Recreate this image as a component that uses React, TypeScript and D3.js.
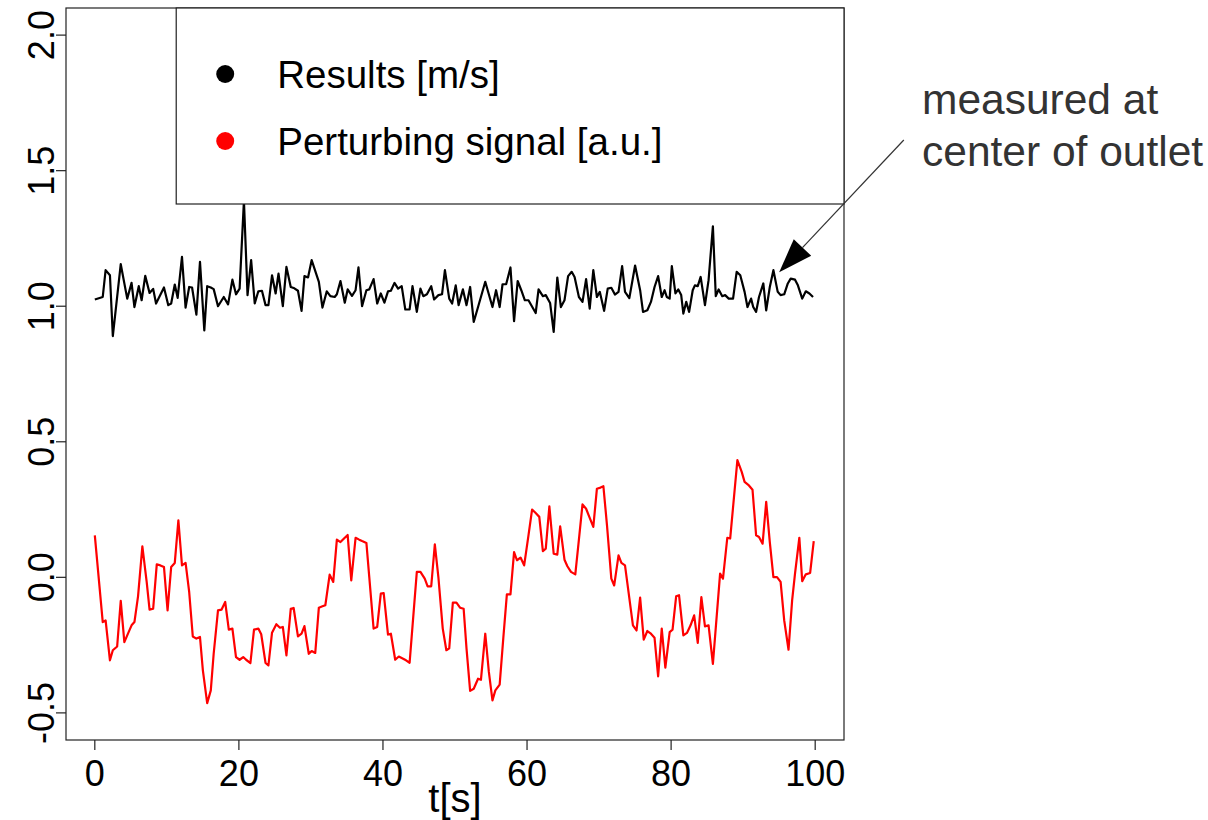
import { useEffect } from "react";
import * as d3 from "d3";

// Results [m/s] — time (s) and value
const resultsT = [0.0, 1.1, 1.5, 2.1, 2.5, 3.6, 4.5, 5.1, 5.5, 6.1, 6.5, 7.0, 7.6, 8.1, 8.5, 9.6, 10.2, 10.6, 11.1, 11.5, 12.1, 12.6, 13.1, 13.5, 14.1, 14.6, 15.2, 15.6, 16.1, 16.5, 17.1, 17.9, 18.5, 19.1, 19.6, 20.1, 20.7, 21.2, 21.7, 22.2, 22.7, 23.2, 23.7, 24.1, 24.6, 25.1, 25.5, 26.1, 26.6, 27.2, 27.7, 28.2, 28.7, 29.1, 29.6, 30.1, 31.1, 31.6, 32.2, 32.7, 33.3, 33.6, 34.1, 34.7, 35.1, 35.7, 36.2, 36.6, 37.1, 37.7, 38.1, 38.7, 39.2, 39.7, 40.2, 40.7, 41.1, 41.6, 42.1, 42.6, 43.1, 43.7, 44.1, 44.7, 45.2, 45.6, 46.1, 46.7, 47.1, 47.7, 48.2, 48.6, 49.2, 49.6, 50.1, 50.5, 51.1, 51.6, 52.1, 52.6, 53.2, 54.2, 55.2, 55.7, 56.2, 56.6, 57.1, 57.7, 58.2, 58.7, 59.2, 59.7, 60.2, 61.2, 61.6, 62.2, 62.6, 63.2, 63.7, 64.2, 64.7, 65.2, 65.7, 66.2, 66.6, 67.2, 67.7, 68.2, 68.7, 69.2, 69.7, 70.1, 70.7, 71.2, 71.7, 72.2, 72.7, 73.2, 73.6, 74.2, 75.0, 75.7, 76.1, 76.7, 77.2, 77.7, 78.2, 78.7, 79.1, 79.4, 79.8, 80.1, 80.6, 81.0, 81.4, 81.7, 82.1, 82.5, 83.0, 83.3, 83.7, 84.1, 84.7, 85.2, 85.8, 86.2, 86.6, 87.1, 87.5, 88.0, 88.6, 89.1, 89.6, 90.2, 90.6, 91.1, 91.4, 91.8, 92.2, 92.8, 93.2, 93.7, 94.2, 94.8, 95.2, 95.7, 96.2, 96.6, 97.2, 97.6, 98.2, 98.7, 99.2, 99.7];
const resultsV = [1.025, 1.034, 1.133, 1.114, 0.89, 1.155, 1.028, 1.086, 0.997, 1.074, 1.022, 1.112, 1.049, 1.064, 1.01, 1.069, 1.004, 1.01, 1.08, 1.031, 1.182, 0.995, 1.071, 1.069, 0.969, 1.164, 0.911, 1.074, 1.069, 1.063, 1.0, 1.034, 1.007, 1.098, 1.044, 1.065, 1.389, 1.041, 1.17, 1.01, 1.055, 1.057, 1.004, 1.004, 1.114, 1.047, 1.12, 1.0, 1.145, 1.071, 1.066, 1.057, 0.983, 1.111, 1.106, 1.17, 1.09, 0.995, 1.055, 1.037, 1.034, 1.044, 1.093, 1.013, 1.062, 1.038, 1.059, 1.143, 1.0, 1.059, 1.062, 1.1, 1.01, 1.047, 1.013, 1.055, 1.057, 1.086, 1.065, 1.074, 0.988, 0.988, 1.074, 0.979, 1.065, 1.037, 1.044, 1.074, 1.025, 1.041, 1.044, 1.133, 1.028, 1.01, 1.077, 1.004, 1.062, 1.004, 1.071, 0.942, 0.997, 1.09, 0.997, 1.059, 0.997, 1.081, 1.081, 1.143, 0.945, 1.093, 1.059, 1.022, 1.022, 0.975, 1.062, 1.037, 1.041, 1.012, 0.905, 1.106, 0.997, 1.022, 1.111, 1.127, 1.108, 1.034, 1.016, 1.1, 0.991, 1.133, 1.034, 1.053, 0.983, 1.065, 1.068, 1.043, 1.053, 1.148, 1.053, 1.03, 1.15, 1.059, 0.979, 0.985, 1.016, 1.071, 1.111, 1.034, 1.059, 1.034, 1.028, 1.148, 1.047, 1.062, 1.041, 0.973, 1.016, 0.979, 1.059, 1.077, 1.074, 1.108, 1.004, 1.096, 1.295, 1.037, 1.062, 1.037, 1.041, 1.028, 1.028, 1.127, 1.114, 1.053, 0.997, 1.028, 0.997, 0.979, 1.034, 1.084, 0.985, 1.071, 1.133, 1.053, 1.041, 1.044, 1.084, 1.102, 1.098, 1.077, 1.028, 1.055, 1.047, 1.034];

// Perturbing signal [a.u.] — time (s) and value
const signalT = [0.0, 1.1, 1.5, 2.1, 2.5, 3.1, 3.6, 4.1, 4.5, 5.1, 5.5, 6.0, 6.6, 7.2, 7.6, 8.1, 8.6, 9.1, 9.6, 10.1, 10.6, 11.1, 11.6, 12.1, 12.6, 13.1, 13.6, 14.1, 14.6, 15.0, 15.6, 16.1, 16.5, 17.1, 17.6, 18.1, 18.6, 19.1, 19.6, 20.1, 20.6, 21.0, 21.6, 22.1, 22.7, 23.1, 23.7, 24.1, 24.6, 25.2, 25.7, 26.1, 26.6, 27.2, 27.6, 28.2, 28.7, 29.1, 29.7, 30.1, 30.6, 31.1, 31.6, 32.0, 32.6, 33.1, 33.6, 34.1, 34.7, 35.1, 35.6, 36.2, 36.7, 37.1, 37.7, 38.1, 38.7, 39.2, 39.7, 40.1, 40.7, 41.1, 41.7, 42.2, 42.8, 43.2, 43.7, 44.1, 44.7, 45.2, 45.8, 46.2, 46.7, 47.2, 47.7, 48.3, 48.8, 49.2, 49.7, 50.2, 50.7, 51.2, 51.6, 52.1, 52.6, 53.2, 53.6, 54.2, 54.7, 55.2, 55.6, 56.2, 56.7, 57.2, 57.7, 58.2, 58.6, 59.1, 59.6, 60.2, 60.7, 61.2, 61.7, 62.2, 62.6, 63.1, 63.7, 64.2, 64.6, 65.2, 65.6, 66.1, 66.7, 67.2, 67.7, 68.2, 68.7, 69.2, 69.7, 70.2, 70.6, 71.1, 71.7, 72.1, 72.7, 73.1, 73.6, 74.7, 75.2, 75.7, 76.2, 76.7, 77.2, 77.7, 78.2, 78.7, 79.2, 79.8, 80.2, 80.7, 81.1, 81.7, 82.2, 82.7, 83.2, 83.7, 84.2, 84.7, 85.2, 85.8, 86.8, 87.2, 87.8, 88.2, 89.2, 89.8, 90.2, 90.8, 91.3, 91.8, 92.2, 92.7, 93.2, 93.7, 94.2, 94.7, 95.2, 95.7, 96.3, 96.8, 97.2, 97.8, 98.2, 98.7, 99.3, 99.8];
const signalV = [0.155, -0.165, -0.159, -0.306, -0.269, -0.255, -0.087, -0.239, -0.214, -0.177, -0.165, -0.07, 0.114, -0.017, -0.119, -0.116, 0.048, 0.044, 0.038, -0.122, 0.038, 0.053, 0.21, 0.044, 0.053, -0.054, -0.218, -0.226, -0.22, -0.343, -0.464, -0.417, -0.282, -0.122, -0.119, -0.091, -0.193, -0.189, -0.294, -0.304, -0.294, -0.304, -0.316, -0.193, -0.189, -0.21, -0.316, -0.325, -0.204, -0.173, -0.186, -0.183, -0.288, -0.116, -0.113, -0.218, -0.208, -0.18, -0.282, -0.272, -0.279, -0.112, -0.107, -0.103, 0.01, -0.017, 0.139, 0.13, 0.146, 0.156, -0.011, 0.146, 0.139, 0.134, 0.127, 0.001, -0.189, -0.183, -0.06, -0.058, -0.211, -0.208, -0.304, -0.292, -0.3, -0.306, -0.315, -0.181, 0.02, 0.02, -0.005, -0.033, -0.033, 0.122, -0.001, -0.189, -0.269, -0.262, -0.093, -0.093, -0.112, -0.116, -0.263, -0.419, -0.411, -0.374, -0.378, -0.208, -0.349, -0.454, -0.417, -0.396, -0.226, -0.063, -0.063, 0.093, 0.063, 0.073, 0.044, 0.155, 0.25, 0.237, 0.223, 0.097, 0.106, 0.262, 0.087, 0.084, 0.188, 0.065, 0.041, 0.02, 0.011, 0.139, 0.269, 0.253, 0.219, 0.186, 0.327, 0.331, 0.336, 0.192, -0.005, -0.03, 0.081, 0.053, 0.044, -0.177, -0.196, -0.075, -0.23, -0.198, -0.208, -0.223, -0.365, -0.189, -0.333, -0.202, -0.193, -0.07, -0.066, -0.214, -0.205, -0.177, -0.14, -0.242, -0.073, -0.181, -0.177, -0.319, 0.014, -0.005, 0.146, 0.143, 0.432, 0.389, 0.352, 0.339, 0.323, 0.155, 0.149, 0.124, 0.278, 0.13, 0.001, 0.001, -0.017, -0.159, -0.267, -0.085, 0.014, 0.146, -0.014, 0.011, 0.016, 0.134];

const xTicks = [0, 20, 40, 60, 80, 100];
const yTicks = [-0.5, 0.0, 0.5, 1.0, 1.5, 2.0];
const legendItems = [
  { label: "Results [m/s]", color: "#000000" },
  { label: "Perturbing signal [a.u.]", color: "#ff0000" },
];
const noteLines = ["measured at", "center of outlet"];
// arrow: from (t, value) to (t, value)
const arrowFrom = [112.3, 1.613];
const arrowTo = [95.0, 1.125];

const FONT = "'Liberation Sans', Arial, sans-serif";

export default function App() {
  useEffect(() => {
    document.body.style.margin = "0";
  }, []);

  const W = 1208;
  const H = 820;
  const x = d3.scaleLinear().domain([-4, 104]).range([66, 844]);
  const y = d3.scaleLinear().domain([-0.6, 2.1]).range([740, 8]);

  const line = d3
    .line<[number, number]>()
    .x((d) => x(d[0]))
    .y((d) => y(d[1]));

  const results = resultsT.map((t, i) => [t, resultsV[i]] as [number, number]);
  const signal = signalT.map((t, i) => [t, signalV[i]] as [number, number]);

  // arrow geometry
  const ax0 = x(arrowFrom[0]);
  const ay0 = y(arrowFrom[1]);
  const ax1 = x(arrowTo[0]);
  const ay1 = y(arrowTo[1]);
  const ang = Math.atan2(ay1 - ay0, ax1 - ax0);
  const headLen = 34;
  const headHalf = 12;
  const bx = ax1 - headLen * Math.cos(ang);
  const by = ay1 - headLen * Math.sin(ang);
  const px = -Math.sin(ang) * headHalf;
  const py = Math.cos(ang) * headHalf;
  const head = `M${ax1},${ay1}L${bx + px},${by + py}L${bx - px},${by - py}Z`;

  const [x0, x1] = x.range();
  const [yb, yt] = y.range();
  const legX = x(11.3);

  return (
    <svg width={W} height={H} style={{ display: "block", background: "#fff" }} fontFamily={FONT}>
      {/* plot box */}
      <rect x={x0} y={yt} width={x1 - x0} height={yb - yt} fill="none" stroke="#222" strokeWidth={1.2} />

      {/* x axis */}
      <g>
        {xTicks.map((t) => (
          <g key={t} transform={`translate(${x(t)},${yb})`}>
            <line y2={10} stroke="#222" strokeWidth={1.2} />
            <text y={46} textAnchor="middle" fontSize={36} fill="#000">
              {t}
            </text>
          </g>
        ))}
        <text x={(x(0) + x(100)) / 2} y={812} textAnchor="middle" fontSize={40}>
          t[s]
        </text>
      </g>

      {/* y axis */}
      <g>
        {yTicks.map((v) => (
          <g key={v} transform={`translate(${x0},${y(v)})`}>
            <line x2={-10} stroke="#222" strokeWidth={1.2} />
            <text transform="translate(-12,0) rotate(-90)" textAnchor="middle" fontSize={36}>
              {v.toFixed(1)}
            </text>
          </g>
        ))}
      </g>

      {/* series */}
      <path d={line(results) ?? ""} fill="none" stroke="#000" strokeWidth={2.2} strokeLinejoin="round" />
      <path d={line(signal) ?? ""} fill="none" stroke="#ff0000" strokeWidth={2.2} strokeLinejoin="round" />

      {/* legend */}
      <g>
        <rect x={legX} y={yt} width={x1 - legX} height={196} fill="#fff" stroke="#222" strokeWidth={1.2} />
        {legendItems.map((d, i) => (
          <g key={d.label} transform={`translate(${legX},${yt + 66 + i * 67})`}>
            <circle cx={49} cy={0} r={9} fill={d.color} />
            <text x={101} y={14} fontSize={38.5}>
              {d.label}
            </text>
          </g>
        ))}
      </g>

      {/* annotation */}
      <line x1={ax0} y1={ay0} x2={bx} y2={by} stroke="#333" strokeWidth={1.2} />
      <path d={head} fill="#000" />
      {noteLines.map((s, i) => (
        <text key={s} x={922} y={114 + i * 52} fontSize={42.5} fill="#333">
          {s}
        </text>
      ))}
    </svg>
  );
}
